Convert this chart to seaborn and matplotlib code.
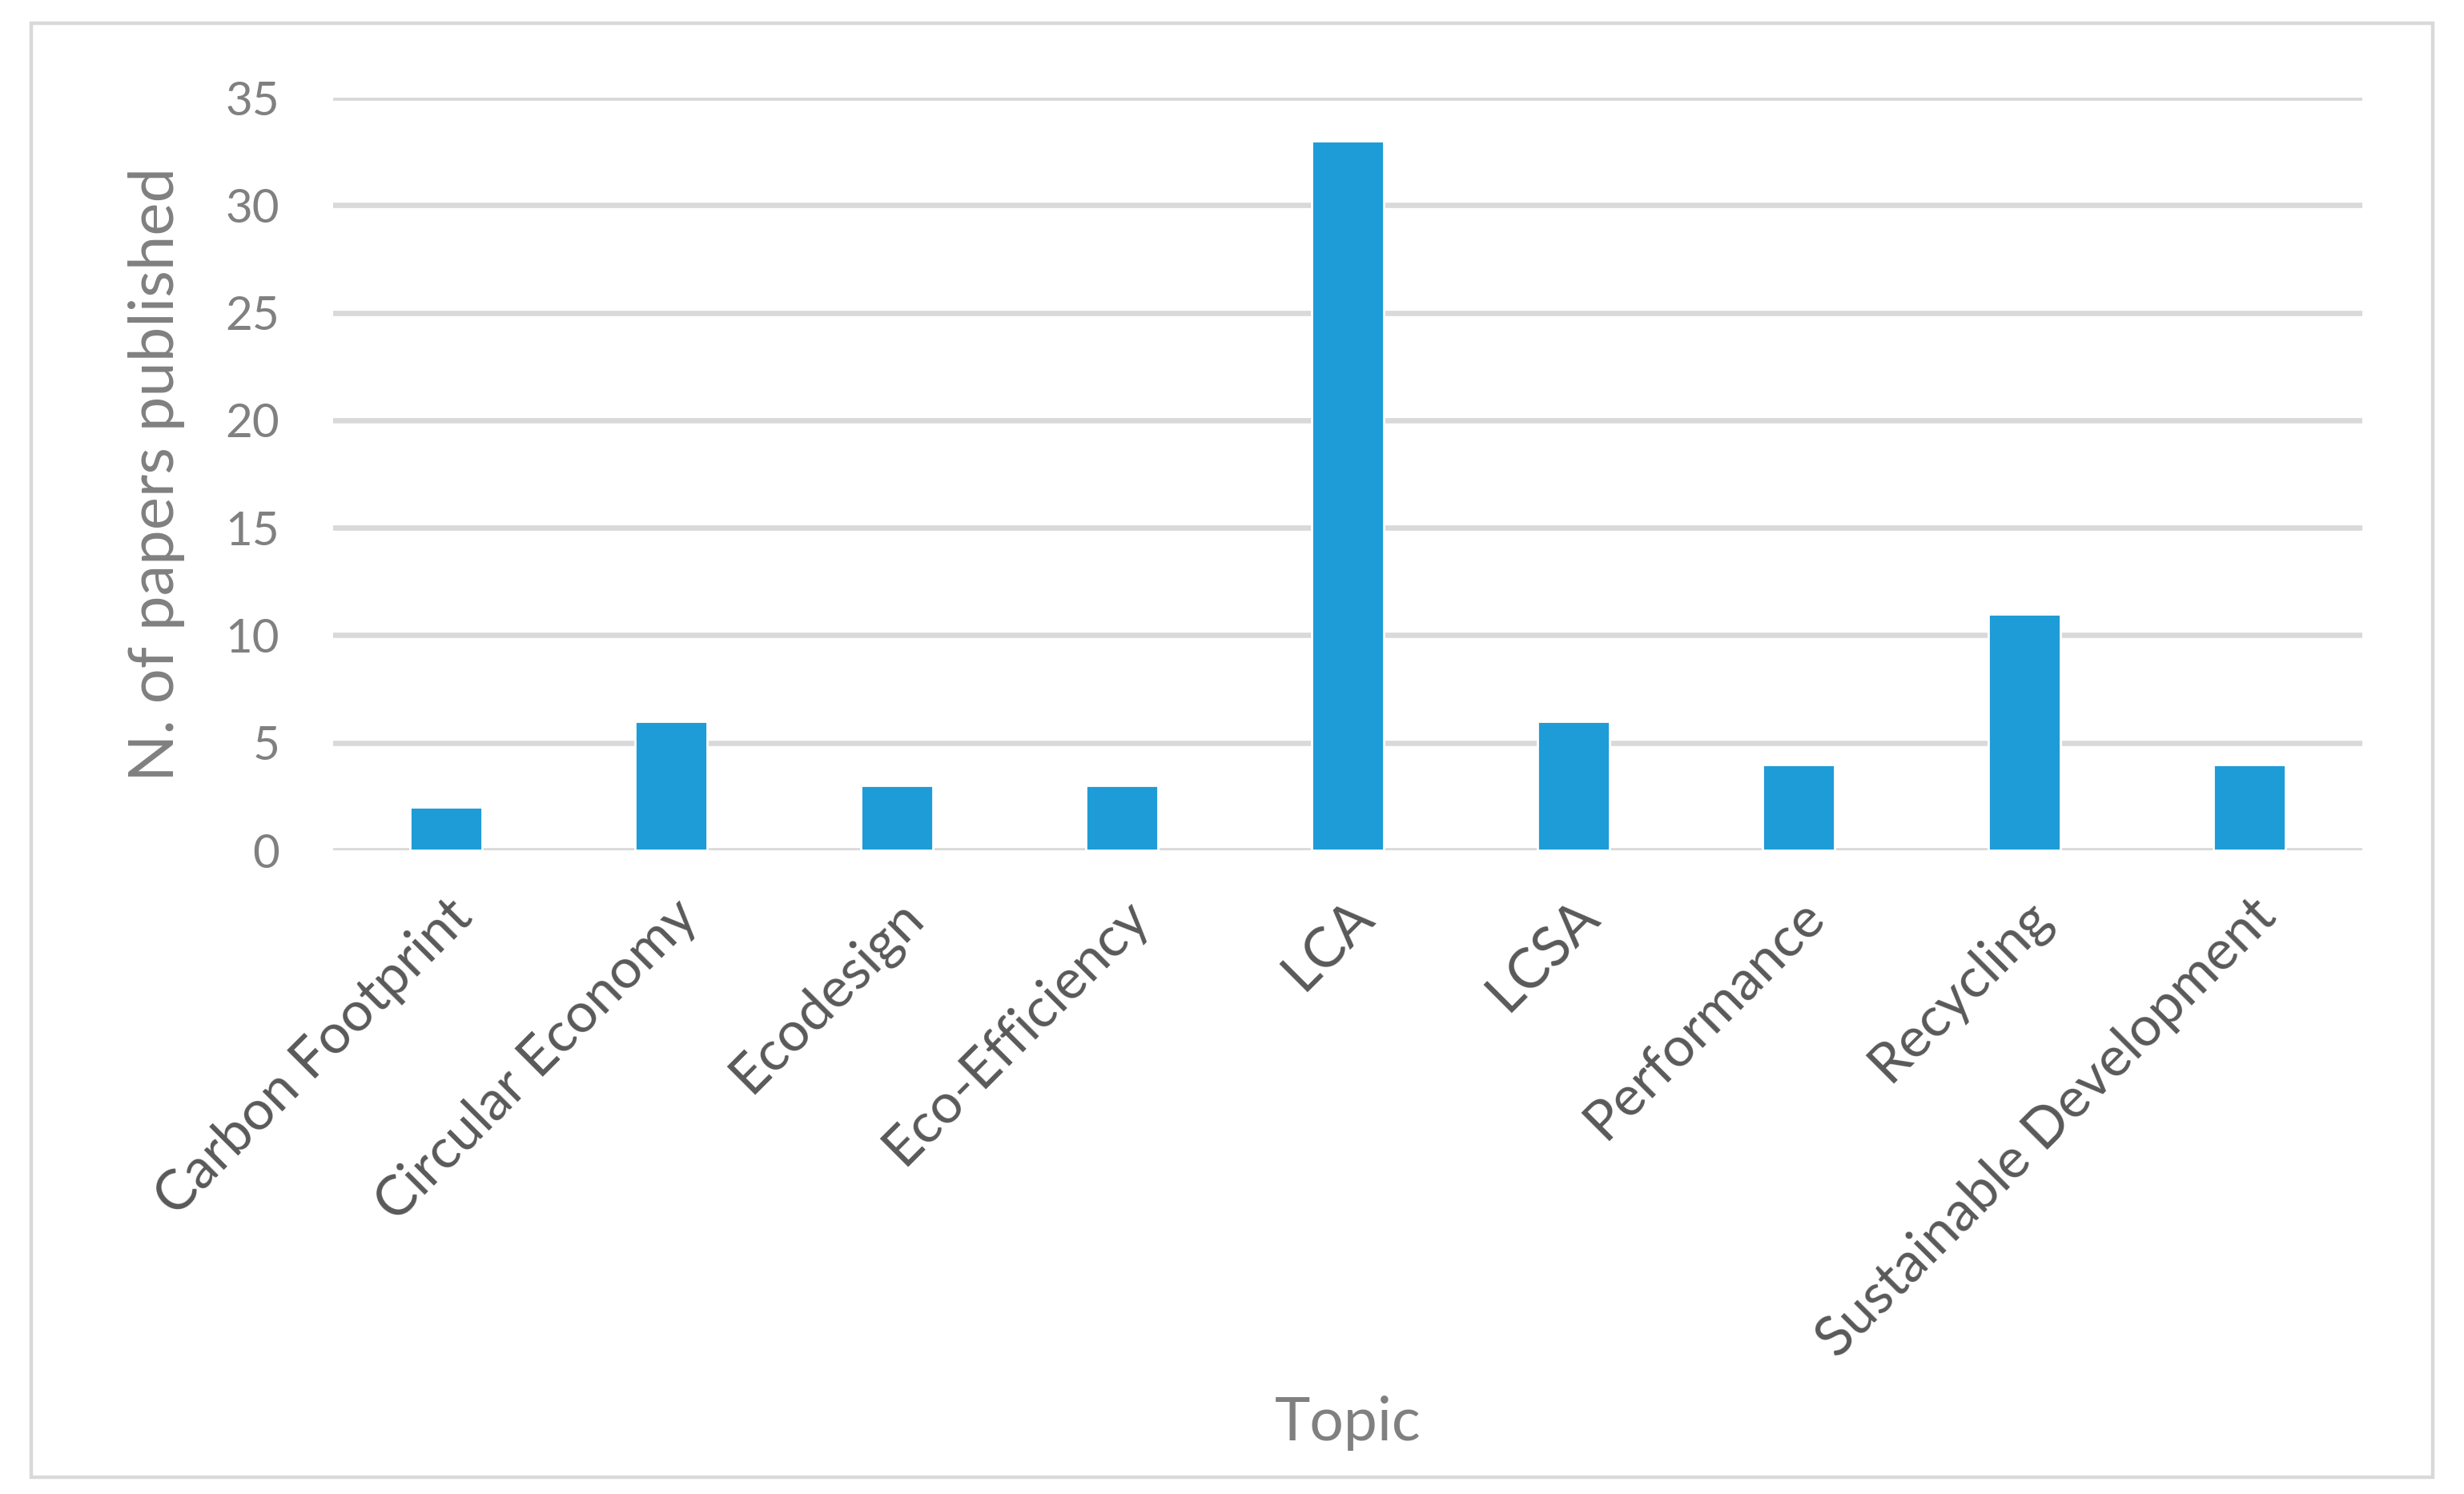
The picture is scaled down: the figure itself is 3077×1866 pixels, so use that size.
import matplotlib
matplotlib.use("Agg")
from matplotlib import pyplot as plt
from matplotlib.patches import Rectangle
import seaborn as sns
import pandas as pd

topics = ["Carbon Footprint", "Circular Economy", "Ecodesign", "Eco-Efficiency",
          "LCA", "LCSA", "Performance", "Recycling", "Sustainable Development"]
papers = [2, 6, 3, 3, 33, 6, 4, 11, 4]
y_ticks = [0, 5, 10, 15, 20, 25, 30, 35]

sns.set_style("white")
plt.rcParams["font.family"] = ["Lato", "DejaVu Sans"]

W, H = 3077, 1866
fig = plt.figure(figsize=(W / 200, H / 200), dpi=200)
ax = fig.add_axes([416 / W, 1 - 1062 / H, (2950 - 416) / W, (1062 - 122) / H])

df = pd.DataFrame({"topic": topics, "papers": papers})
sns.barplot(data=df, x="topic", y="papers", color="#1E9CD7", saturation=1,
            width=0.32, ax=ax, zorder=3)

ax.set_ylim(0, 35)
ax.set_yticks(y_ticks)
ax.set_xlim(-0.5, len(topics) - 0.5)
ax.grid(axis="y", color="#D9D9D9", linewidth=2.4, zorder=0)
ax.set_axisbelow(True)
for s in ax.spines.values():
    s.set_visible(False)

ax.tick_params(axis="y", length=0, pad=24, labelsize=21, labelcolor="#808080")
ax.tick_params(axis="x", length=0, pad=18, labelsize=25, labelcolor="#595959")
plt.setp(ax.get_xticklabels(), rotation=45, ha="right", rotation_mode="anchor")

ax.set_ylabel("N. of papers published", fontsize=28, color="#808080")
ax.set_xlabel("Topic", fontsize=27, color="#808080")
ax.yaxis.set_label_coords(-0.073, 0.5)
ax.xaxis.set_label_coords(0.5, -0.725)

fig.patches.append(Rectangle((39 / W, 1 - 1845 / H), (3038 - 39) / W, (1845 - 29) / H,
                             transform=fig.transFigure, fill=False,
                             edgecolor="#D9D9D9", linewidth=1.6))

fig.savefig("out.png", dpi=200, facecolor="white")
